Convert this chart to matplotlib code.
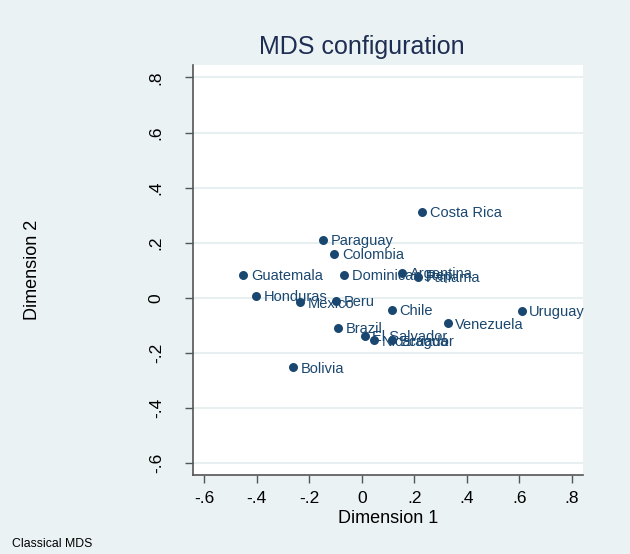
import matplotlib
matplotlib.use("Agg")
from matplotlib import pyplot as plt

# MDS coordinates
countries = ["Costa Rica", "Paraguay", "Colombia", "Guatemala", "Dominican Rep.",
             "Argentina", "Panama", "Honduras", "Mexico", "Peru", "Chile",
             "Venezuela", "Uruguay", "Brazil", "El Salvador", "Nicaragua",
             "Ecuador", "Bolivia"]
dim1 = [0.230, -0.147, -0.105, -0.451, -0.067, 0.154, 0.215, -0.403, -0.235,
        -0.098, 0.114, 0.327, 0.609, -0.090, 0.012, 0.048, 0.116, -0.261]
dim2 = [0.312, 0.210, 0.159, 0.083, 0.083, 0.091, 0.077, 0.008, -0.016,
        -0.012, -0.044, -0.092, -0.047, -0.108, -0.139, -0.154, -0.154, -0.252]
ticks = [-0.6, -0.4, -0.2, 0, 0.2, 0.4, 0.6, 0.8]
tick_labels = ["-.6", "-.4", "-.2", "0", ".2", ".4", ".6", ".8"]

plt.rcParams['font.family'] = ['Liberation Sans', 'DejaVu Sans']

bg = '#eaf2f3'
navy = '#1a476f'

fig = plt.figure(figsize=(6.3, 5.54), dpi=100, facecolor=bg)
ax = fig.add_axes([0.3063, 0.142, 0.619, 0.7406])
ax.set_facecolor('white')

ax.set_xlim(-0.643, 0.843)
ax.set_ylim(-0.644, 0.845)

for t in ticks:
    ax.axhline(t, color='#e8eff1', lw=1.5, zorder=0)

ax.scatter(dim1, dim2, s=42, color=navy, zorder=3, linewidths=0)
for name, x, y in zip(countries, dim1, dim2):
    ax.annotate(name, (x, y), xytext=(5.5, -3.8), textcoords='offset points',
                ha='left', va='baseline', fontsize=10.5, color=navy, zorder=2)

ax.set_xticks(ticks)
ax.set_xticklabels(tick_labels, fontsize=12.5)
ax.set_yticks(ticks)
ax.set_yticklabels(tick_labels, fontsize=12.5, rotation=90, va='center')
ax.tick_params(direction='out', length=6, width=1, color='#555555', pad=5)
ax.tick_params(axis='y', pad=15)

for s in ['top', 'right']:
    ax.spines[s].set_visible(False)
for s in ['left', 'bottom']:
    ax.spines[s].set_color('#555555')
    ax.spines[s].set_linewidth(1.2)

ax.set_xlabel("Dimension 1", fontsize=13, labelpad=3)
ax.set_ylabel("Dimension 2", fontsize=13)
ax.yaxis.set_label_coords(-0.39, 0.5)

fig.text(0.575, 0.9025, "MDS configuration", fontsize=18, color='#1e2d53',
         ha='center', va='baseline')
fig.text(0.019, 0.013, "Classical MDS", fontsize=8.8, color='black',
         ha='left', va='baseline')

fig.savefig("out.png", dpi=100, facecolor=bg)
